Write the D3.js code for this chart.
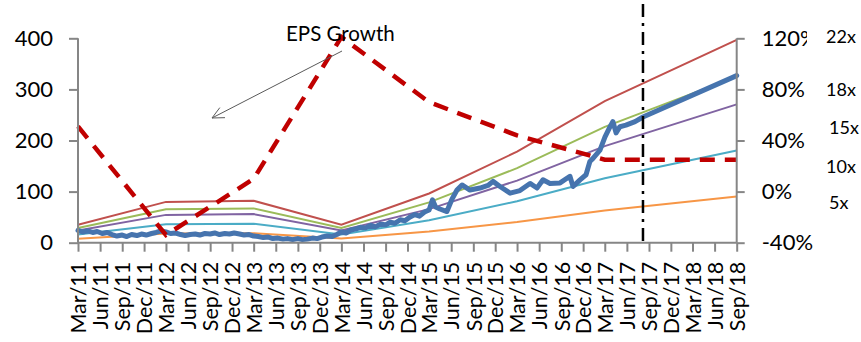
<!DOCTYPE html>
<html>
<head>
<meta charset="utf-8">
<script src="https://cdn.jsdelivr.net/npm/d3@7/dist/d3.min.js"></script>
<style>
  body { margin: 0; background: #fff; }
  svg { display: block; }
  text { font-family: Lato, "Open Sans", sans-serif; fill: #000; }
</style>
</head>
<body>
<svg id="chart" width="861" height="342"></svg>
<script>
// Quarterly category labels along the time axis
const quarterLabels = [
  "Mar/11","Jun/11","Sep/11","Dec/11","Mar/12","Jun/12","Sep/12","Dec/12",
  "Mar/13","Jun/13","Sep/13","Dec/13","Mar/14","Jun/14","Sep/14","Dec/14",
  "Mar/15","Jun/15","Sep/15","Dec/15","Mar/16","Jun/16","Sep/16","Dec/16",
  "Mar/17","Jun/17","Sep/17","Dec/17","Mar/18","Jun/18","Sep/18"
];
const priceTicks = [0, 100, 200, 300, 400];
const growthTicks = [-40, 0, 40, 80, 120];

// Share price (left axis)
const priceDates = [
  "2011-03-01","2011-03-20","2011-04-10","2011-05-01","2011-05-20","2011-06-10","2011-07-01","2011-07-20",
  "2011-08-10","2011-09-01","2011-09-20","2011-10-10","2011-11-01","2011-11-20","2011-12-10","2012-01-01",
  "2012-01-20","2012-02-10","2012-03-01","2012-03-20","2012-04-10","2012-05-01","2012-05-20","2012-06-10",
  "2012-07-01","2012-07-20","2012-08-10","2012-09-01","2012-09-20","2012-10-10","2012-11-01","2012-11-20",
  "2012-12-10","2013-01-01","2013-01-20","2013-02-10","2013-03-01","2013-03-20","2013-04-10","2013-05-01",
  "2013-05-20","2013-06-10","2013-07-01","2013-07-20","2013-08-10","2013-09-01","2013-09-20","2013-10-10",
  "2013-11-01","2013-11-20","2013-12-10","2014-01-01","2014-01-20","2014-02-10","2014-03-01","2014-03-20",
  "2014-04-10","2014-05-01","2014-05-20","2014-06-10","2014-07-01","2014-07-20","2014-08-10","2014-09-01",
  "2014-09-20","2014-10-10","2014-11-01","2014-11-20","2014-12-10","2015-01-01","2015-01-20","2015-02-10",
  "2015-03-01","2015-03-15","2015-03-28","2015-04-15","2015-05-14","2015-06-04","2015-06-25","2015-07-16",
  "2015-08-18","2015-09-29","2015-11-01","2015-11-22","2015-12-21","2016-02-01","2016-03-13","2016-04-24",
  "2016-05-23","2016-06-17","2016-07-16","2016-08-27","2016-10-07","2016-10-20","2016-11-18","2016-12-13",
  "2016-12-29","2017-01-11","2017-02-09","2017-03-02","2017-03-23","2017-04-04","2017-04-17","2017-05-03",
  "2017-05-28","2017-07-05","2017-08-07","2018-09-01"
];
const priceValues = [
  24,21,23,20,22,18,20,16,
  13,15,12,16,14,17,15,18,
  20,23,21,18,19,16,14,16,
  17,15,18,17,19,16,18,17,
  19,17,15,16,13,12,10,11,
  8,9,7,8,6,8,6,7,
  9,8,11,13,12,16,21,19,
  25,27,30,29,34,31,36,35,
  40,38,45,43,50,55,52,60,
  64,84,70,66,61,85,103,113,
  103,107,112,120,110,97,102,116,
  107,123,116,117,130,110,123,133,
  159,165,181,207,227,237,215,227,
  230,237,246,327
];

// Trailing EPS at each annual reset, and the P/E multiples drawn as bands
const epsDates = ["Mar/11","Mar/12","Mar/13","Mar/14","Mar/15","Mar/16","Mar/17","Sep/18"];
const epsValues = [1.59, 3.63, 3.73, 1.60, 4.38, 8.10, 12.60, 18.05];
const multiples = [22, 18, 15, 10, 5];
const bandColors = ["#C0504D", "#9BBB59", "#8064A2", "#4BACC6", "#F79646"];

// EPS growth, % (right axis)
const growthDates = ["Mar/11","Mar/12","Mar/13","Mar/14","Mar/15","Mar/16","Mar/17","Sep/18"];
const growthValues = [51, -34, 10, 121, 70, 44, 25, 25];

// Date separating actual prices from the projected path
const markerDate = "2017-08-07";

const parseQ = d3.timeParse("%b/%y");
const parseD = d3.timeParse("%Y-%m-%d");

const svg = d3.select("#chart");
const plotLeft = 78, plotRight = 736.7, plotTop = 38.3, plotBottom = 242.7;

const x = d3.scaleTime()
  .domain([parseQ(quarterLabels[0]), parseQ(quarterLabels[quarterLabels.length - 1])])
  .range([plotLeft, plotRight]);
const yL = d3.scaleLinear().domain([0, 400]).range([plotBottom, plotTop]);
const yR = d3.scaleLinear().domain([-40, 120]).range([plotBottom, plotTop]);

const axisColor = "#868686";

// P/E bands
const valueLine = d3.line().x(d => x(d.date)).y(d => yL(d.value));
multiples.forEach((m, i) => {
  const pts = epsDates.map((q, j) => ({ date: parseQ(q), value: epsValues[j] * m }));
  svg.append("path")
    .attr("d", valueLine(pts))
    .attr("fill", "none")
    .attr("stroke", bandColors[i])
    .attr("stroke-width", 2);
});

// Share price
const pricePts = priceDates.map((d, i) => ({ date: parseD(d), value: priceValues[i] }));
svg.append("path")
  .attr("d", valueLine(pricePts))
  .attr("fill", "none")
  .attr("stroke", "#4674AE")
  .attr("stroke-width", 5)
  .attr("stroke-linejoin", "round")
  .attr("stroke-linecap", "round");

// EPS growth dashed line
const growthLine = d3.line().x(d => x(d.date)).y(d => yR(d.value));
const growthPts = growthDates.map((q, i) => ({ date: parseQ(q), value: growthValues[i] }));
svg.append("path")
  .attr("d", growthLine(growthPts))
  .attr("fill", "none")
  .attr("stroke", "#C00000")
  .attr("stroke-width", 4.5)
  .attr("stroke-dasharray", "15,10");

// Vertical dash-dot marker
const mx = x(parseD(markerDate));
svg.append("line")
  .attr("x1", mx).attr("x2", mx)
  .attr("y1", 4).attr("y2", plotBottom)
  .attr("stroke", "#000")
  .attr("stroke-width", 2.5)
  .attr("stroke-dasharray", "13,6,3,6");

// Left axis
const gL = svg.append("g").attr("transform", `translate(${plotLeft},0)`)
  .call(d3.axisLeft(yL).tickValues(priceTicks).tickSize(9).tickPadding(16));
// Right axis
const gR = svg.append("g").attr("transform", `translate(${plotRight},0)`)
  .call(d3.axisRight(yR).tickValues(growthTicks).tickSize(8).tickPadding(17)
    .tickFormat(d => d + "%"));
// Bottom axis
const quarterDates = quarterLabels.map(parseQ);
const gB = svg.append("g").attr("transform", `translate(0,${plotBottom})`)
  .call(d3.axisBottom(x).tickValues(quarterDates).tickSize(9)
    .tickFormat((d, i) => quarterLabels[i]));

[gL, gR, gB].forEach(g => {
  g.select(".domain").attr("stroke", axisColor).attr("stroke-width", 2);
  g.selectAll(".tick line").attr("stroke", axisColor).attr("stroke-width", 2);
});
gB.select(".domain").attr("d", `M${plotLeft},0H${plotRight}`);
gL.select(".domain").attr("d", `M0,${plotTop}V${plotBottom}`);
gR.select(".domain").attr("d", `M0,${plotTop}V${plotBottom}`);

gL.selectAll(".tick text").attr("font-size", 22).style("font-family", "Lato, sans-serif");
gR.selectAll(".tick text").attr("font-size", 22).style("font-family", "Lato, sans-serif");
gB.selectAll(".tick text")
  .attr("font-size", 21.5)
  .style("font-family", "Lato, sans-serif")
  .attr("text-anchor", "end")
  .attr("transform", "rotate(-90)")
  .attr("x", -19)
  .attr("y", 0)
  .attr("dy", "0.36em");

// P/E multiple labels (the top one sits on an opaque box)
const multLabels = ["22x", "18x", "15x", "10x", "5x"];
const multPos = [[826, 37], [826, 90], [829, 128], [826, 167], [829, 203]];
svg.append("rect").attr("x", 807).attr("y", 22).attr("width", 54).attr("height", 32).attr("fill", "#fff");
multLabels.forEach((t, i) => {
  svg.append("text")
    .attr("x", multPos[i][0]).attr("y", multPos[i][1])
    .attr("dy", "0.35em")
    .attr("font-size", 18)
    .text(t);
});

// Annotation
svg.append("text").attr("x", 286).attr("y", 41).attr("font-size", 20.5).text("EPS Growth");
const ax0 = 342, ay0 = 51, ax1 = 212, ay1 = 118;
svg.append("line").attr("x1", ax0).attr("y1", ay0).attr("x2", ax1).attr("y2", ay1)
  .attr("stroke", "#595959").attr("stroke-width", 1);
const ang = Math.atan2(ay0 - ay1, ax0 - ax1);
[0.45, -0.45].forEach(da => {
  svg.append("line")
    .attr("x1", ax1).attr("y1", ay1)
    .attr("x2", ax1 + 13 * Math.cos(ang + da)).attr("y2", ay1 + 13 * Math.sin(ang + da))
    .attr("stroke", "#595959").attr("stroke-width", 1);
});
</script>
</body>
</html>
